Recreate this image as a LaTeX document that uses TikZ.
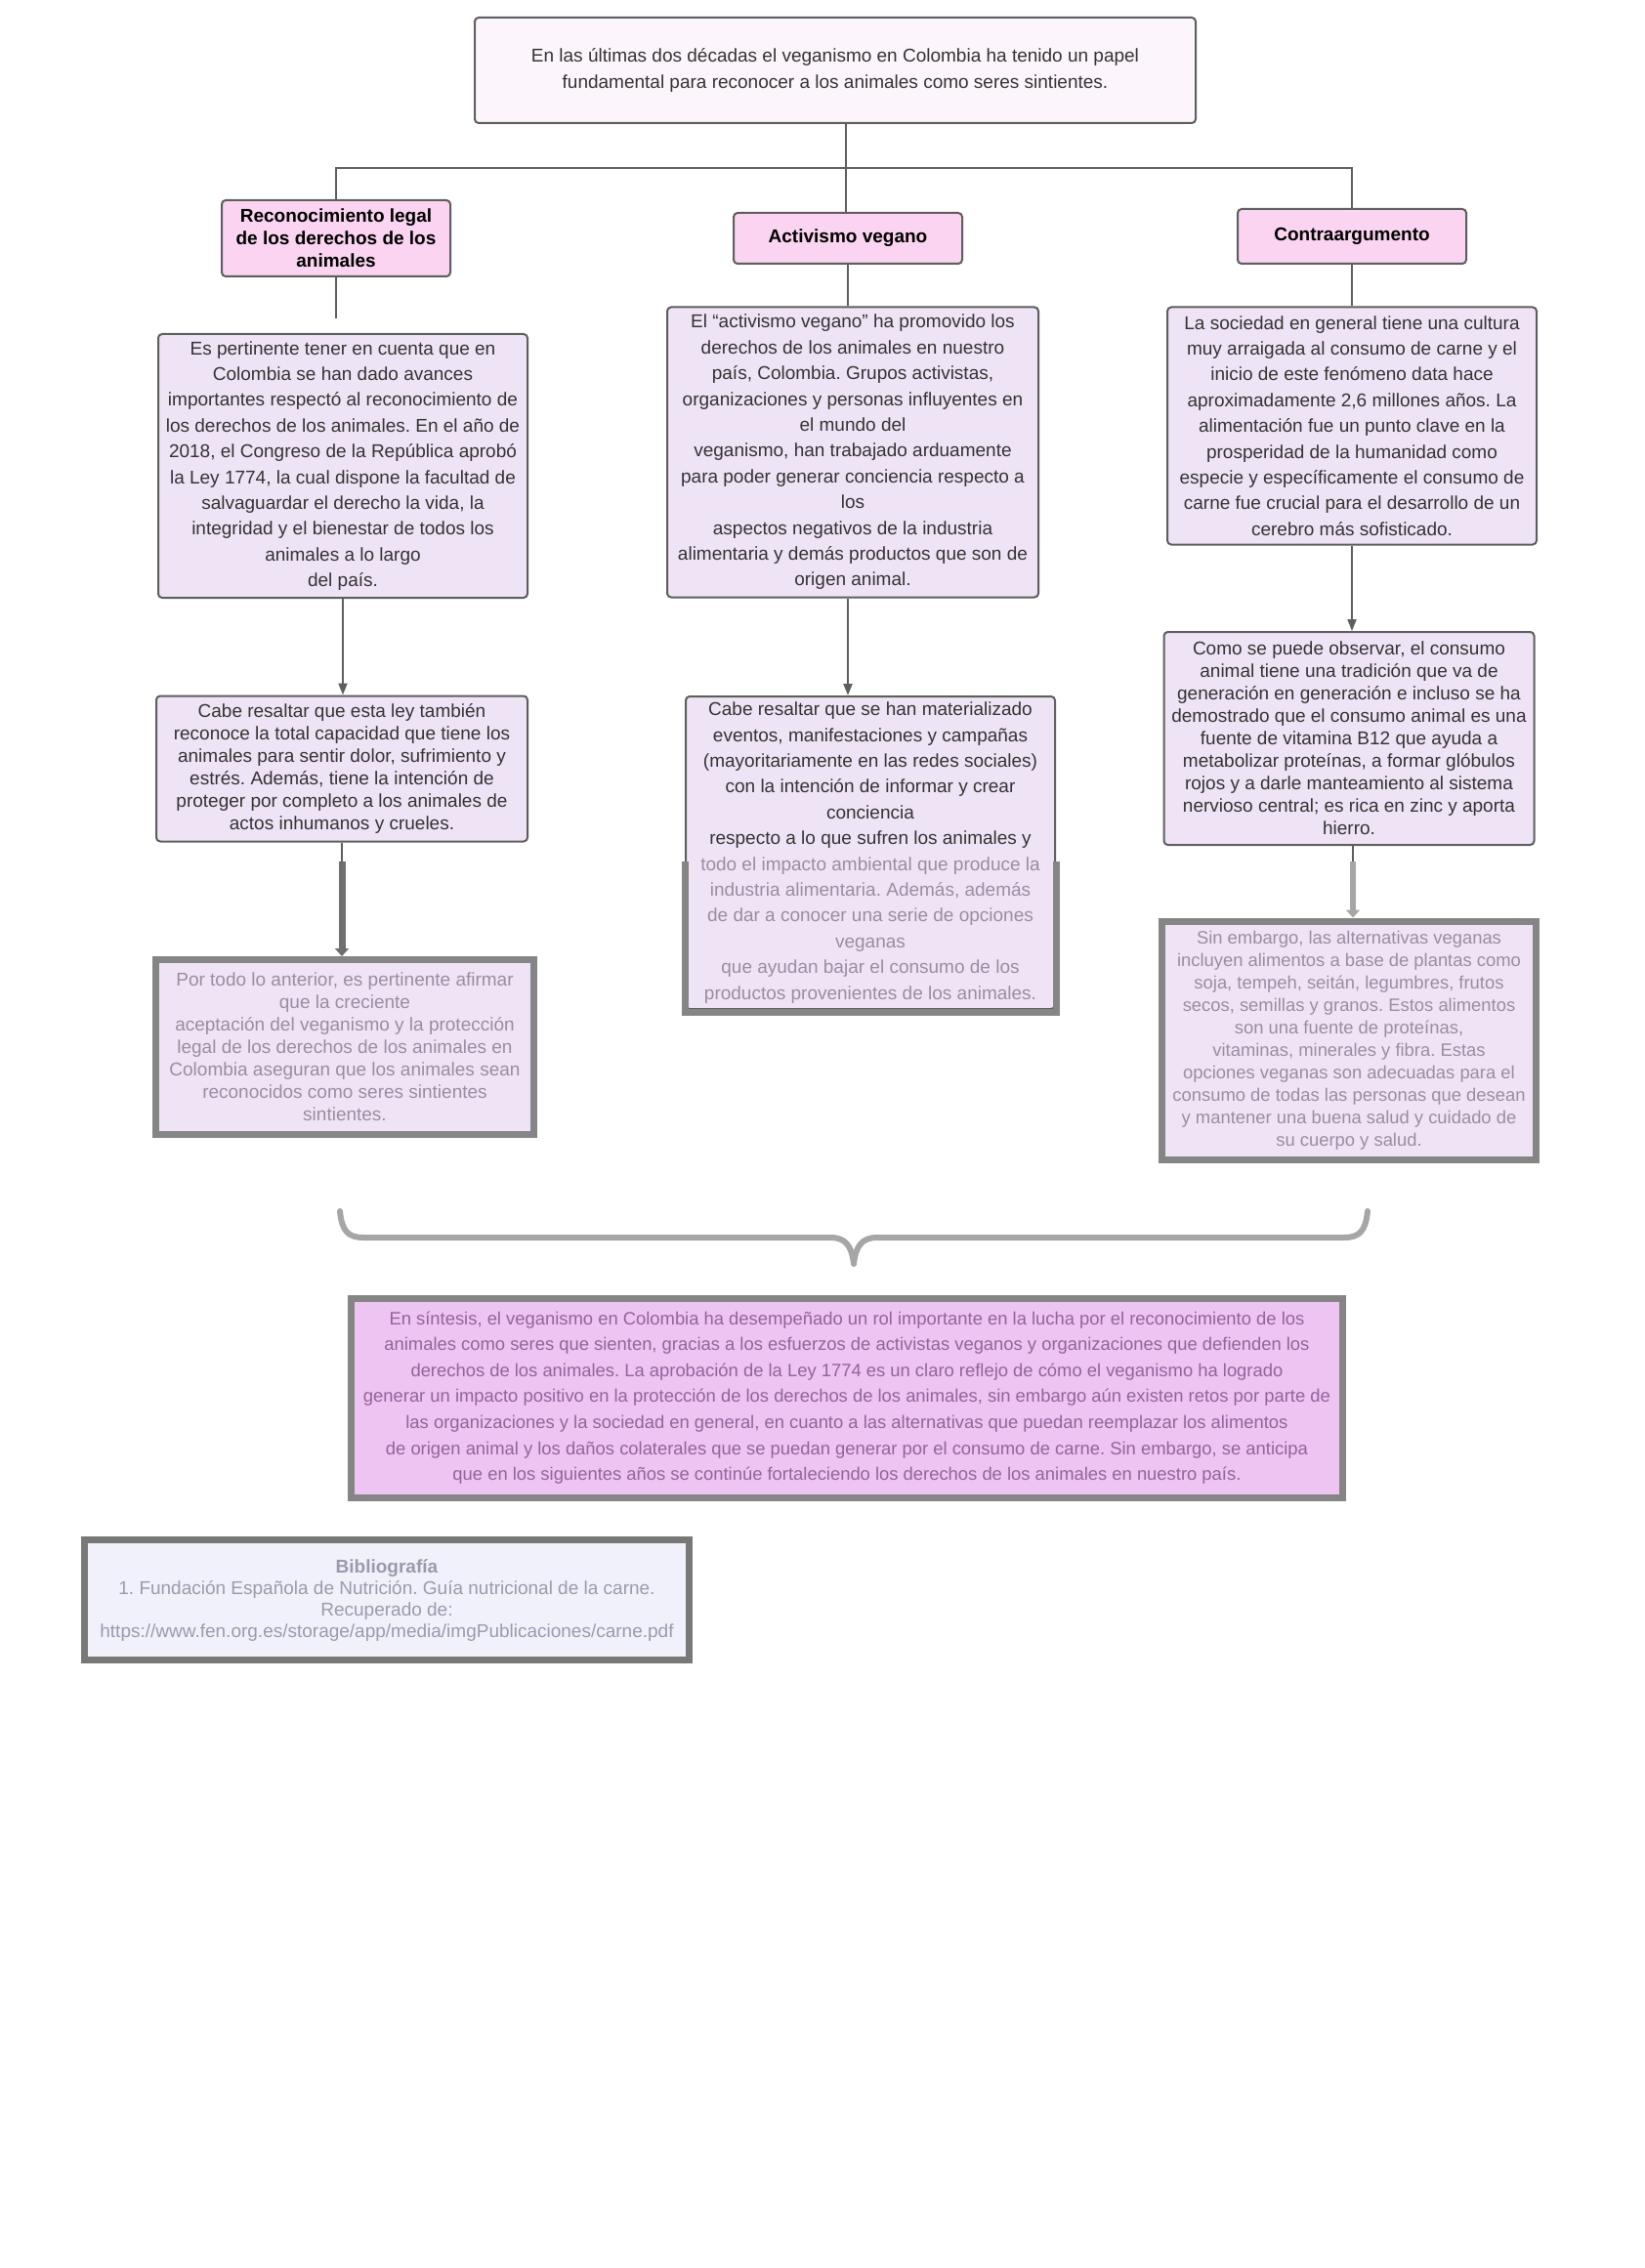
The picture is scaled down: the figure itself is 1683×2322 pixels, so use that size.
\documentclass[tikz,border=0pt]{standalone}
\usepackage{fontspec}
\setmainfont{Liberation Sans}
\usetikzlibrary{arrows.meta}
\definecolor{bordc}{HTML}{5E5E5E}
\definecolor{txtc}{HTML}{333333}
\definecolor{topfill}{HTML}{FDF5FC}
\definecolor{headfill}{HTML}{FAD4F0}
\definecolor{lavfill}{HTML}{EFE4F5}
\definecolor{blurtxt}{HTML}{9A8CA2}
\definecolor{blurframe}{HTML}{858585}
\definecolor{conclfill}{HTML}{EEC4F2}
\definecolor{concltxt}{HTML}{93649A}
\definecolor{bibfill}{HTML}{F1F1FB}
\definecolor{bibtxt}{HTML}{9A9AAE}
\definecolor{bracec}{HTML}{A6A6A6}
\frenchspacing
\begin{document}
\begin{tikzpicture}[x=0.5pt,y=-0.5pt,
  sz/.style 2 args={minimum width=#1, minimum height=#2},
  box/.style={draw=bordc, line width=1pt, rounded corners=2pt, inner sep=0pt,
    align=center, text=txtc, fill=lavfill, font={\fontsize{9.5}{13.2}\selectfont}},
  tightbox/.style={box, font={\fontsize{9.5}{11.5}\selectfont}},
  headbox/.style={box, fill=headfill, font={\fontsize{9.5}{11.5}\selectfont\bfseries}, text=black},
  blurbox/.style={draw=blurframe, line width=3.5pt, inner sep=0pt, align=center,
    fill=lavfill, text=blurtxt, font={\fontsize{9.5}{11.5}\selectfont}},
  conn/.style={draw=bordc, line width=1pt},
  arr/.style={conn, -{Triangle[width=4.5pt,length=6pt]}},
  thickarr/.style={draw=bordc!90, line width=3.5pt, -{Triangle[width=7pt,length=4pt]}},
  thickarrR/.style={draw=bracec, line width=3pt, -{Triangle[width=7pt,length=4pt]}},
  bracestyle/.style={draw=bracec, line width=3pt, line cap=round, line join=round}
]
\useasboundingbox (0,0) rectangle (1683,2322);

% top
\node[box, fill=topfill, sz={369pt}{54pt}] (top) at (855,72)
  {En las últimas dos décadas el veganismo en Colombia ha tenido un papel\\
   fundamental para reconocer a los animales como seres sintientes.};

% headers
\node[headbox, sz={117pt}{39pt}] (h1) at (344,244)
  {Reconocimiento legal\\de los derechos de los\\animales};
\node[headbox, sz={117pt}{26pt}] (h2) at (868,244) {Activismo vegano};
\node[headbox, sz={117pt}{28pt}] (h3) at (1384,242) {Contraargumento};

% level 2
\node[box, sz={189pt}{135pt}] (l2) at (351,477)
  {Es pertinente tener en cuenta que en\\
   Colombia se han dado avances\\
   importantes respectó al reconocimiento de\\
   los derechos de los animales. En el año de\\
   2018, el Congreso de la República aprobó\\
   la Ley 1774, la cual dispone la facultad de\\
   salvaguardar el derecho la vida, la\\
   integridad y el bienestar de todos los\\
   animales a lo largo\\
   del país.};
\node[box, sz={190pt}{148.5pt}] (m2) at (873,463)
  {El “activismo vegano” ha promovido los\\
   derechos de los animales en nuestro\\
   país, Colombia. Grupos activistas,\\
   organizaciones y personas influyentes en\\
   el mundo del\\
   veganismo, han trabajado arduamente\\
   para poder generar conciencia respecto a\\
   los\\
   aspectos negativos de la industria\\
   alimentaria y demás productos que son de\\
   origen animal.};
\node[box, sz={189pt}{121.5pt}] (r2) at (1384,436)
  {La sociedad en general tiene una cultura\\
   muy arraigada al consumo de carne y el\\
   inicio de este fenómeno data hace\\
   aproximadamente 2,6 millones años. La\\
   alimentación fue un punto clave en la\\
   prosperidad de la humanidad como\\
   especie y específicamente el consumo de\\
   carne fue crucial para el desarrollo de un\\
   cerebro más sofisticado.};

% level 3
\node[tightbox, sz={190pt}{74.5pt}] (l3) at (350,787)
  {Cabe resaltar que esta ley también\\
   reconoce la total capacidad que tiene los\\
   animales para sentir dolor, sufrimiento y\\
   estrés. Además, tiene la intención de\\
   proteger por completo a los animales de\\
   actos inhumanos y crueles.};
\node[box, sz={189pt}{160pt}] (m3) at (891,873)
  {Cabe resaltar que se han materializado\\
   eventos, manifestaciones y campañas\\
   (mayoritariamente en las redes sociales)\\
   con la intención de informar y crear\\
   conciencia\\
   respecto a lo que sufren los animales y\\
   \textcolor{blurtxt}{todo el impacto ambiental que produce la}\\
   \textcolor{blurtxt}{industria alimentaria. Además, además}\\
   \textcolor{blurtxt}{de dar a conocer una serie de opciones}\\
   \textcolor{blurtxt}{veganas}\\
   \textcolor{blurtxt}{que ayudan bajar el consumo de los}\\
   \textcolor{blurtxt}{productos provenientes de los animales.}};
\coordinate (mb) at (0,882);
\draw[draw=blurframe, line width=3.5pt] (m3.west |- mb) -- ([yshift=-1pt]m3.south west) -- ([yshift=-1pt]m3.south east) -- (m3.east |- mb);
\node[tightbox, sz={189.5pt}{109pt}] (r3) at (1381,756)
  {Como se puede observar, el consumo\\
   animal tiene una tradición que va de\\
   generación en generación e incluso se ha\\
   demostrado que el consumo animal es una\\
   fuente de vitamina B12 que ayuda a\\
   metabolizar proteínas, a formar glóbulos\\
   rojos y a darle manteamiento al sistema\\
   nervioso central; es rica en zinc y aporta\\
   hierro.};

% level 4 (blurred)
\node[blurbox, sz={193.5pt}{89.5pt}] (l4) at (353,1072)
  {Por todo lo anterior, es pertinente afirmar\\
   que la creciente\\
   aceptación del veganismo y la protección\\
   legal de los derechos de los animales en\\
   Colombia aseguran que los animales sean\\
   reconocidos como seres sintientes\\
   sintientes.};
\node[blurbox, sz={191.5pt}{122pt}, font={\fontsize{9.2}{11.5}\selectfont}] (r4) at (1381,1065)
  {Sin embargo, las alternativas veganas\\
   incluyen alimentos a base de plantas como\\
   soja, tempeh, seitán, legumbres, frutos\\
   secos, semillas y granos. Estos alimentos\\
   son una fuente de proteínas,\\
   vitaminas, minerales y fibra. Estas\\
   opciones veganas son adecuadas para el\\
   consumo de todas las personas que desean\\
   y mantener una buena salud y cuidado de\\
   su cuerpo y salud.};

% conclusion
\node[blurbox, fill=conclfill, text=concltxt, font={\fontsize{9.2}{13.3}\selectfont},
  sz={507.5pt}{102pt}] (concl) at (867,1431)
  {En síntesis, el veganismo en Colombia ha desempeñado un rol importante en la lucha por el reconocimiento de los\\
   animales como seres que sienten, gracias a los esfuerzos de activistas veganos y organizaciones que defienden los\\
   derechos de los animales. La aprobación de la Ley 1774 es un claro reflejo de cómo el veganismo ha logrado\\
   generar un impacto positivo en la protección de los derechos de los animales, sin embargo aún existen retos por parte de\\
   las organizaciones y la sociedad en general, en cuanto a las alternativas que puedan reemplazar los alimentos\\
   de origen animal y los daños colaterales que se puedan generar por el consumo de carne. Sin embargo, se anticipa\\
   que en los siguientes años se continúe fortaleciendo los derechos de los animales en nuestro país.};

% bibliography
\node[blurbox, draw=blurframe!90!black, fill=bibfill, text=bibtxt, font={\fontsize{9.5}{11}\selectfont},
  sz={309.5pt}{61.5pt}] (bib) at (396,1638)
  {\textbf{Bibliografía}\\
   1. Fundación Española de Nutrición. Guía nutricional de la carne.\\
   Recuperado de:\\
   https://www.fen.org.es/storage/app/media/imgPublicaciones/carne.pdf};

% connectors
\coordinate (bar) at (866,172);
\draw[conn] (top.south -| bar) -- (bar);
\draw[conn, line width=1.3pt] (h1.north) -- (h1.north |- bar) -- (h3.north |- bar) -- (h3.north);
\draw[conn] (bar) -- (h2.north -| bar);
\draw[conn, shorten >=7.5pt] (h1.south) -- (h1.south |- l2.north);
\draw[conn] (h2.south) -- (h2.south |- m2.north);
\draw[conn] (h3.south) -- (h3.south |- r2.north);
\draw[arr] (l2.south) -- (l2.south |- l3.north);
\draw[arr] (m2.south -| h2) -- (m3.north -| h2);
\draw[arr] (r2.south) -- (r2.south |- r3.north);
\coordinate (kl) at (350,882);
\coordinate (kr) at (1385,882);
\draw[conn] (l3.south) -- (l3.south |- kl);
\draw[thickarr] (l3.south |- kl) -- (l3.south |- l4.north);
\draw[conn] (r3.south -| kr) -- (kr);
\draw[thickarrR] (kr) -- (r4.north -| kr);

% brace
\draw[bracestyle] (348,1240) .. controls (350,1260) and (356,1267) .. (372,1267)
  -- (850,1267) .. controls (866,1267) and (872,1276) .. (874,1294)
  .. controls (876,1276) and (882,1267) .. (898,1267)
  -- (1376,1267) .. controls (1392,1267) and (1398,1260) .. (1400,1240);
\end{tikzpicture}
\end{document}
